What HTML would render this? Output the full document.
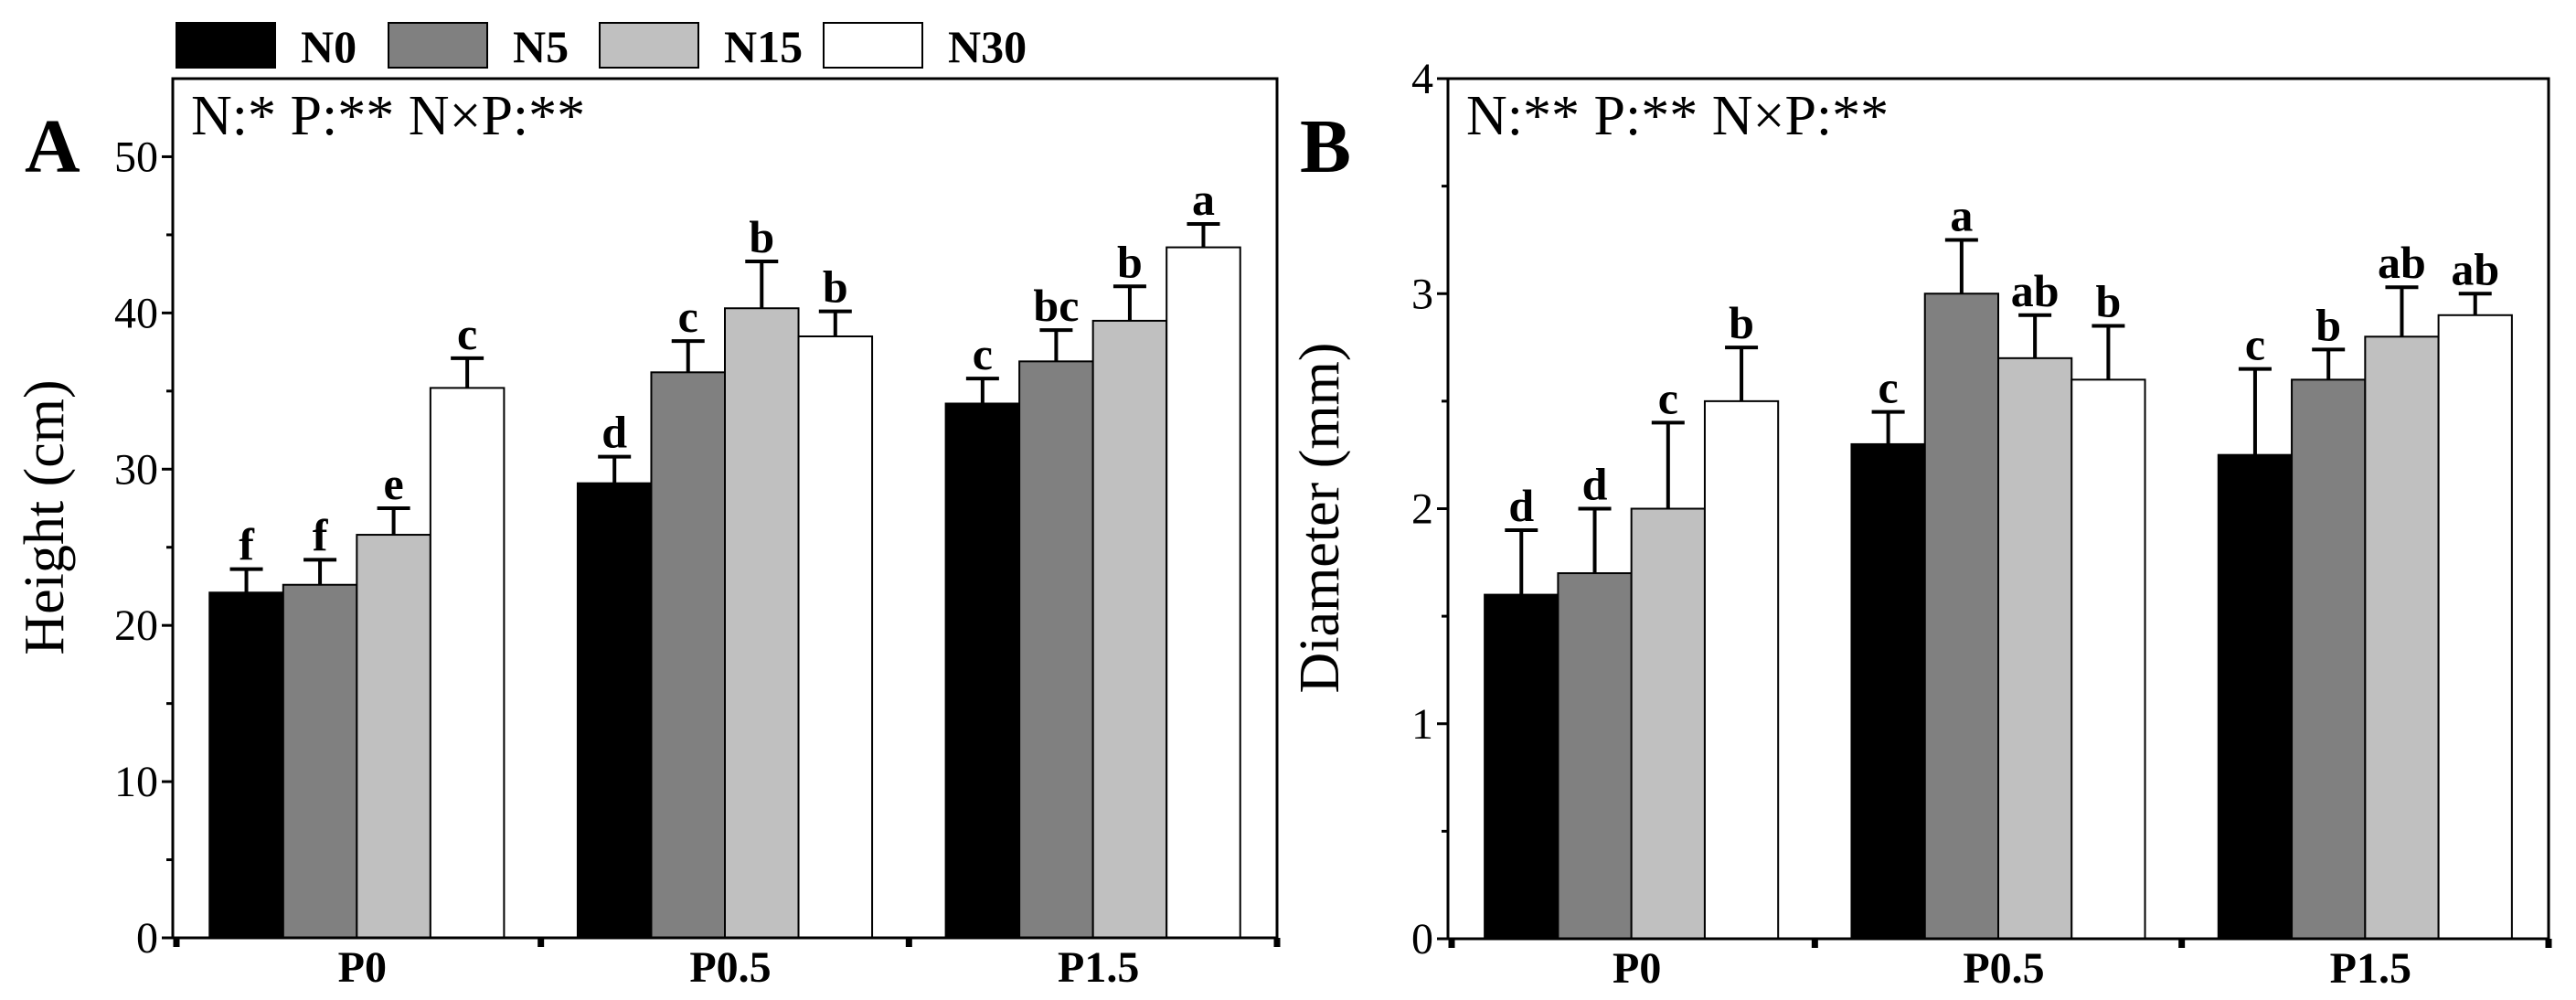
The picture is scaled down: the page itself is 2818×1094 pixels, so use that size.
<!DOCTYPE html>
<html><head><meta charset="utf-8"><style>
body{margin:0;background:#fff;overflow:hidden;}
svg{display:block;font-family:"Liberation Serif",serif;}
</style></head><body>
<svg id="chart" width="2818" height="1094" viewBox="0 0 2818 1094"></svg>
<script>
const categories = ["P0","P0.5","P1.5"];
const seriesNames = ["N0","N5","N15","N30"];
const heightVals = [[22.1,29.1,34.2],[22.6,36.2,36.9],[25.8,40.3,39.5],[35.2,38.5,44.2]];
const heightErrTop = [[23.6,30.8,35.8],[24.2,38.2,38.9],[27.5,43.3,41.7],[37.1,40.1,45.7]];
const heightLetters = [["f","d","c"],["f","c","bc"],["e","b","b"],["c","b","a"]];
const heightTicks = [0,10,20,30,40,50];
const diamVals = [[1.6,2.3,2.25],[1.7,3.0,2.6],[2.0,2.7,2.8],[2.5,2.6,2.9]];
const diamErrTop = [[1.9,2.45,2.65],[2.0,3.25,2.74],[2.4,2.9,3.03],[2.75,2.85,3.0]];
const diamLetters = [["d","c","c"],["d","a","b"],["c","ab","ab"],["b","b","ab"]];
const diamTicks = [0,1,2,3,4];

const NS="http://www.w3.org/2000/svg";
const svg=document.getElementById('chart');
const fills=["#000000","#808080","#c0c0c0","#ffffff"];
function mk(tag,attrs,parent){const e=document.createElementNS(NS,tag);for(const k in attrs)e.setAttribute(k,attrs[k]);(parent||svg).appendChild(e);return e;}

function panel(o){
  const g=mk('g',{});
  
  
  const yS=v=>o.bottom-(v-o.ymin)/(o.ymax-o.ymin)*(o.bottom-o.top);
  const band=(o.right-o.left)/categories.length;
  const barW=band*0.8/seriesNames.length;
  for(let s=0;s<seriesNames.length;s++){
    for(let c=0;c<categories.length;c++){
      const x=o.left+band*c+band*0.1+barW*s;
      const v=o.vals[s][c], y=yS(v);
      const r=mk('rect',{x:x,y:y,width:barW,height:o.bottom-y,fill:fills[s],stroke:'#000','stroke-width':2},g);
      
      
      const cx=x+barW/2, ye=yS(o.err[s][c]);
      const eb=mk('path',{d:`M${cx} ${y}V${ye}M${cx-18} ${ye}H${cx+18}`,stroke:'#000','stroke-width':4,fill:'none'},g);
      
      
      const t=mk('text',{x:cx,y:ye-10,'text-anchor':'middle','font-size':50,'font-weight':'bold'},g);
      t.textContent=o.letters[s][c];
      
      
    }
  }
  const fr=mk('rect',{x:o.left,y:o.top,width:o.right-o.left,height:o.bottom-o.top,fill:'none',stroke:'#000','stroke-width':3},g);
  
  
  const step=o.ticks[1]-o.ticks[0];
  o.ticks.forEach((v,i)=>{
    const y=yS(v);
    mk('line',{x1:o.left-12,x2:o.left,y1:y,y2:y,stroke:'#000','stroke-width':3},g);
    const t=mk('text',{x:o.left-16,y:y+16,'text-anchor':'end','font-size':48},g);
    t.textContent=v;
    
    
    if(i<o.ticks.length-1 && yS(v+step/2)>o.top){const ym=yS(v+step/2);mk('line',{x1:o.left-7,x2:o.left,y1:ym,y2:ym,stroke:'#000','stroke-width':3},g);}
  });
  for(let c=0;c<=categories.length;c++){
    const x=o.left+band*c+(c==0?4:0);
    mk('line',{x1:x,x2:x,y1:o.bottom,y2:o.bottom+10,stroke:'#000','stroke-width':7},g);
  }
  categories.forEach((cat,c)=>{
    const t=mk('text',{x:o.left+band*c+band/2+6,y:o.bottom+48,'text-anchor':'middle','font-size':48,'font-weight':'bold'},g);
    t.textContent=cat;
    
    
  });
  const yt=mk('text',{x:0,y:0,'text-anchor':'middle','font-size':62,transform:`translate(${o.left-120},${(o.top+o.bottom)/2+10}) rotate(-90)`},g);
  yt.textContent=o.ytitle;
  
  
  const pl=mk('text',{x:o.left-162,y:o.top+102,'font-size':84,'font-weight':'bold'},g);
  pl.textContent=o.label;
  
  
  const st=mk('text',{x:o.left+20,y:o.top+61,'font-size':62},g);
  st.textContent=o.stats;
  
  
}
panel({name:'height-panel',left:189,right:1397,top:86,bottom:1026,ymin:0,ymax:55,vals:heightVals,err:heightErrTop,letters:heightLetters,ticks:heightTicks,ytitle:'Height (cm)',label:'A',stats:'N:* P:** N×P:**'});
panel({name:'diameter-panel',left:1584,right:2788,top:86,bottom:1027,ymin:0,ymax:4,vals:diamVals,err:diamErrTop,letters:diamLetters,ticks:diamTicks,ytitle:'Diameter (mm)',label:'B',stats:'N:** P:** N×P:**'});

const leg=mk('g',{});


const legX=[193,425,656,901];
seriesNames.forEach((n,i)=>{
  const r=mk('rect',{x:legX[i],y:25,width:108,height:49,fill:fills[i],stroke:'#000','stroke-width':2},leg);
  
  
  const t=mk('text',{x:legX[i]+136,y:68,'font-size':50,'font-weight':'bold'},leg);
  t.textContent=n;
  
  
});
</script>
</body></html>
